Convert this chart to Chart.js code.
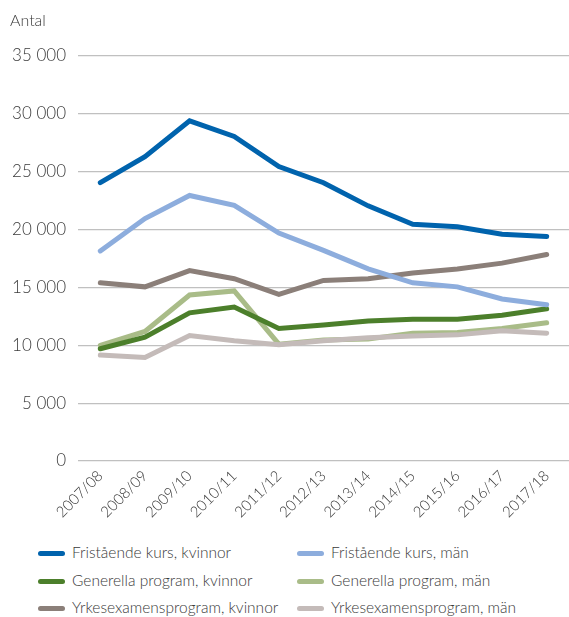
<!DOCTYPE html>
<html>
<head>
<meta charset="utf-8">
<script src="https://cdn.jsdelivr.net/npm/chart.js@4"></script>
<style>
  html, body { margin: 0; padding: 0; background: #fff; }
  body { width: 569px; height: 617px; position: relative; overflow: hidden; font-family: Lato, "Open Sans", sans-serif; font-weight: 300; color: #3a3a3a; }
  #wrap { position: absolute; left: 0; top: 0; width: 569px; height: 530px; }
  #ylabel { position: absolute; left: 10px; top: 10px; font-size: 16px; }
  .leg { position: absolute; font-size: 15.5px; line-height: 18px; white-space: nowrap; }
  .sw { position: absolute; width: 27px; height: 5px; border-radius: 3px; }
</style>
</head>
<body>
<div id="wrap"><canvas id="c"></canvas></div>
<div id="ylabel">Antal</div>
<div id="legend"></div>
<script>
const categories = ["2007/08","2008/09","2009/10","2010/11","2011/12","2012/13","2013/14","2014/15","2015/16","2016/17","2017/18"];
const seriesNames = ["Fristående kurs, kvinnor","Fristående kurs, män","Generella program, kvinnor","Generella program, män","Yrkesexamensprogram, kvinnor","Yrkesexamensprogram, män"];
const fristaendeKvinnor = [24050, 26300, 29400, 28050, 25450, 24050, 22050, 20450, 20250, 19600, 19400];
const fristaendeMan     = [18150, 20950, 22950, 22100, 19700, 18200, 16600, 15400, 15050, 14000, 13500];
const generellaKvinnor  = [9700, 10700, 12800, 13300, 11450, 11750, 12100, 12250, 12250, 12600, 13150];
const generellaMan      = [10000, 11200, 14350, 14700, 10100, 10450, 10550, 11050, 11100, 11450, 11950];
const yrkesKvinnor      = [15400, 15050, 16450, 15750, 14400, 15600, 15750, 16250, 16600, 17100, 17850];
const yrkesMan          = [9150, 8950, 10850, 10400, 10050, 10400, 10650, 10800, 10900, 11250, 11050];
const yTicks = [0, 5000, 10000, 15000, 20000, 25000, 30000, 35000];

const colors = ["#0063ad", "#8daddd", "#4c7f2b", "#a9bc88", "#8b7f79", "#c4bbb9"];
const orders = [3, 1, 4, 5, 6, 2];
const values = [fristaendeKvinnor, fristaendeMan, generellaKvinnor, generellaMan, yrkesKvinnor, yrkesMan];

const datasets = values.map((v, i) => ({
  label: seriesNames[i],
  data: v,
  borderColor: colors[i],
  backgroundColor: colors[i],
  borderWidth: 5,
  pointRadius: 0,
  tension: 0,
  fill: false,
  order: orders[i],
  borderCapStyle: 'round',
  borderJoinStyle: 'miter'
}));

const fmt = v => String(v).replace(/\B(?=(\d{3})+(?!\d))/g, ' ');

new Chart(document.getElementById('c'), {
  type: 'line',
  data: { labels: categories, datasets },
  options: {
    responsive: true,
    maintainAspectRatio: false,
    animation: false,
    layout: { padding: { top: 56, right: 0, bottom: 0, left: 0 } },
    plugins: { legend: { display: false }, tooltip: { enabled: false } },
    scales: {
      x: {
        offset: true,
        grid: { display: false, drawTicks: false },
        border: { display: false },
        ticks: {
          minRotation: 45, maxRotation: 45, padding: 6,
          color: '#3a3a3a',
          font: { family: 'Lato, "Open Sans", sans-serif', size: 15, weight: '300' }
        },
        afterFit: s => { s.height = 69; }
      },
      y: {
        min: 0, max: 35000,
        afterBuildTicks: s => { s.ticks = yTicks.map(v => ({ value: v })); },
        grid: { color: '#c0c0c0', lineWidth: 1.2, drawTicks: false },
        border: { display: false },
        ticks: {
          padding: 12,
          color: '#3a3a3a',
          font: { family: 'Lato, "Open Sans", sans-serif', size: 17, weight: '300' },
          callback: v => fmt(v)
        },
        afterFit: s => { s.width = 78; }
      }
    }
  }
});

const legend = document.getElementById('legend');
const pos = [[38, 553], [297, 553], [38, 581], [297, 581], [38, 608], [297, 608]];
seriesNames.forEach((name, i) => {
  const sw = document.createElement('div');
  sw.className = 'sw';
  sw.style.left = pos[i][0] + 'px';
  sw.style.top = (pos[i][1] - 2.5) + 'px';
  sw.style.background = colors[i];
  legend.appendChild(sw);
  const t = document.createElement('div');
  t.className = 'leg';
  t.style.left = (pos[i][0] + 34) + 'px';
  t.style.top = (pos[i][1] - 10) + 'px';
  t.textContent = name;
  legend.appendChild(t);
});
</script>
</body>
</html>
